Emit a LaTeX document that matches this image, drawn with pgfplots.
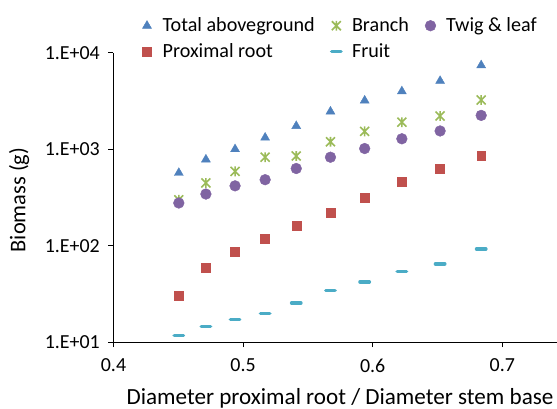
\documentclass[border=0pt]{standalone}
\usepackage{pgfplots}
\pgfplotsset{compat=1.18}
\usepackage{fontspec}
\setmainfont{Carlito}
\definecolor{cBlue}{HTML}{4F81BD}
\definecolor{cRed}{HTML}{C0504D}
\definecolor{cGreen}{HTML}{9BBB59}
\definecolor{cPurple}{HTML}{8064A2}
\definecolor{cAqua}{HTML}{4BACC6}
\pgfdeclareplotmark{xstar}{%
  \pgfpathmoveto{\pgfqpoint{-\pgfplotmarksize}{-\pgfplotmarksize}}%
  \pgfpathlineto{\pgfqpoint{\pgfplotmarksize}{\pgfplotmarksize}}%
  \pgfpathmoveto{\pgfqpoint{-\pgfplotmarksize}{\pgfplotmarksize}}%
  \pgfpathlineto{\pgfqpoint{\pgfplotmarksize}{-\pgfplotmarksize}}%
  \pgfpathmoveto{\pgfqpoint{0pt}{-1.1\pgfplotmarksize}}%
  \pgfpathlineto{\pgfqpoint{0pt}{1.1\pgfplotmarksize}}%
  \pgfusepathqstroke}
\newcommand\lstrut{\rule[-4bp]{0pt}{18bp}}
\begin{document}
\begin{tikzpicture}
\begin{axis}[
  scale only axis, width=443.5bp, height=289.5bp,
  ymode=log, xmin=0.4, xmax=0.7422, ymin=10, ymax=10000,
  axis lines*=left, axis line style={line width=1pt},
  tick align=outside, major tick length=5bp, tick style={line width=1pt, black},
  xtick={0.4,0.5,0.6,0.7}, xticklabels={0.4,0.5,0.6,0.7},
  ytick={10,100,1000,10000}, yticklabels={1.E+01,1.E+02,1.E+03,1.E+04},
  minor ytick={}, yminorticks=false,
  xlabel={Diameter proximal root / Diameter stem base},
  ylabel={Biomass (g)},
  xlabel style={font=\fontsize{23.2}{28}\selectfont, at={(axis description cs:0.5107,0)}, anchor=base, yshift=-61.8bp, inner sep=0pt},
  ylabel style={font=\fontsize{22.5}{27}\selectfont, at={(axis description cs:-0.1989,0.4912)}, anchor=base, inner sep=0pt},
  ticklabel style={font=\fontsize{20}{24}\selectfont, inner sep=0pt},
  xticklabel style={anchor=north, yshift=-11.6bp},
  yticklabel style={anchor=east, xshift=-8.5bp},
  legend columns=3,
  legend cell align=left,
  legend image code/.code={\path[draw=none,fill=none] (-7bp,-2bp) rectangle (7bp,2bp); \draw[#1] plot coordinates {(0bp,0bp)};},
  legend style={draw=none, fill=none, at={(axis description cs:0,1)}, anchor=north west,
    xshift=26.5bp, yshift=36.7bp,
    font=\fontsize{20.2}{24}\selectfont, inner sep=0pt, outer sep=0pt,
    /tikz/every even column/.append style={column sep=12.6bp},
    /tikz/every odd column/.append style={column sep=6.7bp},
    row sep=6.3bp},
  clip=false,
]
\coordinate (bl) at (rel axis cs:0,0);
\addplot[only marks, mark=triangle*, mark size=5.2, color=cBlue] coordinates {
(0.4504,568) (0.4713,782) (0.4938,1000) (0.5170,1318) (0.5410,1738) (0.5674,2455) (0.5938,3192) (0.6225,3980) (0.6520,5100) (0.6837,7400)};
\addlegendentry{\lstrut Total aboveground}
\addplot[only marks, mark=xstar, mark size=4.5, color=cGreen, line width=1.6pt] coordinates {
(0.4504,299) (0.4713,447) (0.4938,589) (0.5170,826) (0.5410,851) (0.5674,1194) (0.5938,1531) (0.6225,1905) (0.6520,2208) (0.6837,3236)};
\addlegendentry{\lstrut Branch}
\addplot[only marks, mark=*, mark size=5.4, color=cPurple] coordinates {
(0.4504,277) (0.4713,343) (0.4938,417) (0.5170,483) (0.5410,631) (0.5674,826) (0.5938,1016) (0.6225,1282) (0.6520,1545) (0.6837,2240)};
\addlegendentry{\lstrut Twig \& leaf}
\addplot[only marks, mark=square*, mark size=4.5, color=cRed] coordinates {
(0.4504,30.6) (0.4713,59.6) (0.4938,86.7) (0.5170,119) (0.5410,160) (0.5674,219) (0.5938,312) (0.6225,457) (0.6520,631) (0.6837,851)};
\addlegendentry{\lstrut Proximal root}
\addplot[only marks, mark=-, mark size=4.7, color=cAqua, line width=3.5pt, line cap=round] coordinates {
(0.4504,11.7) (0.4713,14.6) (0.4938,17.1) (0.5170,19.8) (0.5410,25.5) (0.5674,34.3) (0.5938,42.2) (0.6225,54) (0.6520,64.9) (0.6837,92.5)};
\addlegendentry{\lstrut Fruit}
\end{axis}
\pgfresetboundingbox
\path[use as bounding box] (bl) ++(-113.5bp,-66.8bp) rectangle ++(557bp,409bp);
\end{tikzpicture}
\end{document}
